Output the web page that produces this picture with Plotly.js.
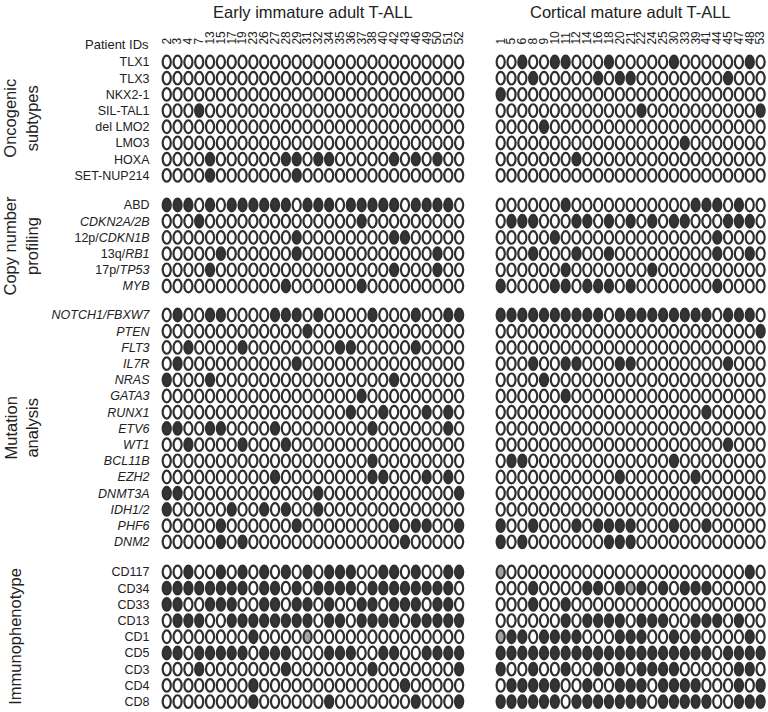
<!DOCTYPE html>
<html><head><meta charset="utf-8">
<script src="https://cdn.plot.ly/plotly-3.0.1.min.js"></script>
<style>html,body{margin:0;padding:0;background:#fff}#chart{width:768px;height:712px}</style>
</head><body><div id="chart"></div>
<script>
// ---------- data ----------
const earlyIDs = [2,3,4,7,13,15,17,19,23,26,27,28,29,31,32,34,35,36,37,38,40,42,43,46,49,50,51,52];
const corticalIDs = [1,5,6,8,9,10,11,12,14,16,18,20,21,22,24,25,30,33,39,41,44,45,47,48,53];

const sectionNames = ['Oncogenic<br>subtypes','Copy number<br>profiling','Mutation<br>analysis','Immunophenotype'];

const oncoRows = ['TLX1','TLX3','NKX2-1','SIL-TAL1','del LMO2','LMO3','HOXA','SET-NUP214'];
const copyRows = ['ABD','<i>CDKN2A/2B</i>','12p/<i>CDKN1B</i>','13q/<i>RB1</i>','17p/<i>TP53</i>','<i>MYB</i>'];
const mutRows = ['<i>NOTCH1/FBXW7</i>','<i>PTEN</i>','<i>FLT3</i>','<i>IL7R</i>','<i>NRAS</i>','<i>GATA3</i>','<i>RUNX1</i>','<i>ETV6</i>','<i>WT1</i>','<i>BCL11B</i>','<i>EZH2</i>','<i>DNMT3A</i>','<i>IDH1/2</i>','<i>PHF6</i>','<i>DNM2</i>'];
const immunoRows = ['CD117','CD34','CD33','CD13','CD1','CD5','CD3','CD4','CD8'];

// 0 = absent (open), 1 = present (dark), 2 = weak/partial (grey)
const oncoEarly = [
 "0000000000000000000000000000",
 "0000000000000000000000000000",
 "0000000000000000000000000000",
 "0001000000000000000000000000",
 "0000000000000000000000000000",
 "0000000000000000000000000000",
 "0000100000011011000001010100",
 "0000100000001000000000000000"];
const oncoCortical = [
 "0010011000100000100000010",
 "0001000001011000000001000",
 "1000000000000000000000000",
 "0000000000000100000000001",
 "0000100000000000000000000",
 "0000000000000000010000000",
 "0000000100000000000000000",
 "0000000000000000000000000"];
const copyEarly = [
 "1110101111110111011111011110",
 "0001000000000000001000000000",
 "0000000000001000000001100000",
 "0000010000001000000000000100",
 "0000100000000000000001000100",
 "0000000000010000001000000000"];
const copyCortical = [
 "0000001000000000001110100",
 "0111000110101010110001110",
 "0000010000000000000010000",
 "0001000100100000000010010",
 "0000001000000010000000000",
 "1000011011101000000010000"];
const mutEarly = [
 "0100110000111010000100010011",
 "0000000000000100000000000000",
 "0010000100000000110000010000",
 "0100000000001000000000000000",
 "1000100000000000000001000000",
 "0000000000000000001000000000",
 "0000000000000000010010001010",
 "1100110000100000000100000010",
 "0010000100010000000000000000",
 "0000000000000000000100000000",
 "0000000000100000000110001010",
 "1100000000000010000000000001",
 "1000001001010010000000000000",
 "0000010000001000000001011001",
 "0000010100000000000000100000"];
const mutCortical = [
 "1111111111011111111101110",
 "0000000000000000000000001",
 "0000000000000000000000000",
 "0001001100011000000001000",
 "0000100000000000000000000",
 "0000001000000000000000000",
 "0000000000000000000100000",
 "0000000000000000000000000",
 "0000000000000000000001000",
 "0110000000000000100000000",
 "0000000000010000001000000",
 "0000000000000000000000000",
 "0000000000000000000000000",
 "1001000101111000100100000",
 "1010000000111000000000000"];
const immunoEarly = [
 "0010010101010101110011010011",
 "1111111101101011110111111110",
 "1100111001101101001101110110",
 "0111001111111101101111011111",
 "0000000010000200000000000000",
 "1101111101110001110011001111",
 "0001000000010000000100000001",
 "0000000010000000000000100000",
 "0000000010000001000000010001"];
const immunoCortical = [
 "2000000000000000000000010",
 "0001000011012101011100000",
 "0001001000000000000000000",
 "0000001011110111001110100",
 "2110111100011100101000010",
 "1111111111111111111101111",
 "1001001001010111100000110",
 "0111110010011101111000101",
 "1111110111111101111100111"];

// ---------- layout geometry ----------
const W = 768, H = 712;
const L = 161, R = 2, T = 50, B = 2;
const xRange = [-0.53, 55.34];
const yRange = [40.0, -0.74];
const groupGap = 2.84;            // empty columns between the two groups
const sectionGaps = [0, 0.83, 1.62, 2.48];
const ew = 0.75, eh = 0.78;       // ellipse size in axis units

const sections = [
  {rows: oncoRows, early: oncoEarly, cort: oncoCortical},
  {rows: copyRows, early: copyEarly, cort: copyCortical},
  {rows: mutRows, early: mutEarly, cort: mutCortical},
  {rows: immunoRows, early: immunoEarly, cort: immunoCortical}
];

const fills = ['#ffffff', '#353535', '#a3a3a3'];
const shapes = [];
const tickVals = [], tickText = [];
const hx = [], hy = [], htxt = [];
const sectionCenters = [];
let idx = 0;
sections.forEach((sec, s) => {
  const ys = [];
  sec.rows.forEach((lab, r) => {
    const y = idx + sectionGaps[s];
    ys.push(y);
    tickVals.push(y); tickText.push(lab);
    const put = (str, ids, offset) => {
      ids.forEach((id, c) => {
        const v = +str[c];
        const x = offset + c;
        shapes.push({type:'circle', xref:'x', yref:'y', layer:'above',
          x0: x - ew/2, x1: x + ew/2, y0: y - eh/2, y1: y + eh/2,
          line:{color:'#2f2f2f', width:2.2}, fillcolor: fills[v]});
        hx.push(x); hy.push(y);
        htxt.push('Patient ' + id + ' – ' + lab.replace(/<\/?i>/g,'') + ': ' + ['no','yes','partial'][v]);
      });
    };
    put(sec.early[r], earlyIDs, 0);
    put(sec.cort[r], corticalIDs, earlyIDs.length + groupGap);
    idx++;
  });
  sectionCenters.push((ys[0] + ys[ys.length-1]) / 2);
});

const xTickVals = earlyIDs.map((d,i)=>i).concat(corticalIDs.map((d,i)=>earlyIDs.length + groupGap + i));
const xTickText = earlyIDs.concat(corticalIDs).map(String);

const pw = W - L - R, ph = H - T - B;
const pxX = px => (px - L) / pw;
const pxY = py => 1 - (py - T) / ph;

const font = 'Liberation Sans, Arial, Helvetica, sans-serif';
const annotations = [
  {text:'Early immature adult T-ALL', xref:'x', yref:'paper', x:(earlyIDs.length-1)/2, y:pxY(12), showarrow:false, xanchor:'center', yanchor:'middle', font:{size:16.5, color:'#222'}},
  {text:'Cortical mature adult T-ALL', xref:'x', yref:'paper', x:earlyIDs.length + groupGap + (corticalIDs.length-1)/2, y:pxY(12), showarrow:false, xanchor:'center', yanchor:'middle', font:{size:16.5, color:'#222'}},
  {text:'Patient IDs', xref:'paper', yref:'paper', x:pxX(151), y:pxY(44), showarrow:false, xanchor:'right', yanchor:'middle', font:{size:13, color:'#222'}}
];
const secX = [21, 21, 21, 15];
sectionNames.forEach((n, s) => {
  annotations.push({text:n, xref:'paper', yref:'y', x:pxX(secX[s]), y:sectionCenters[s], textangle:-90,
    showarrow:false, xanchor:'center', yanchor:'middle', font:{size:16.5, color:'#222'}});
});

const trace = {type:'scatter', mode:'markers', x:hx, y:hy, text:htxt, hoverinfo:'text',
  marker:{size:10, color:'rgba(0,0,0,0)'}, showlegend:false};

const layout = {
  width:W, height:H, margin:{l:L, r:R, t:T, b:B},
  paper_bgcolor:'#fff', plot_bgcolor:'#fff',
  font:{family:font, color:'#222'},
  showlegend:false,
  xaxis:{range:xRange, side:'top', tickmode:'array', tickvals:xTickVals, ticktext:xTickText,
    tickangle:-90, tickfont:{size:12, color:'#222'}, ticks:'outside', ticklen:2, tickcolor:'rgba(0,0,0,0)',
    showgrid:false, zeroline:false, showline:false, fixedrange:true},
  yaxis:{range:yRange, tickmode:'array', tickvals:tickVals, ticktext:tickText,
    tickfont:{size:12.5, color:'#222'}, ticks:'outside', ticklen:8, tickcolor:'rgba(0,0,0,0)',
    showgrid:false, zeroline:false, showline:false, fixedrange:true},
  shapes: shapes,
  annotations: annotations
};
Plotly.newPlot('chart', [trace], layout, {displayModeBar:false, staticPlot:true});
</script>
</body></html>
